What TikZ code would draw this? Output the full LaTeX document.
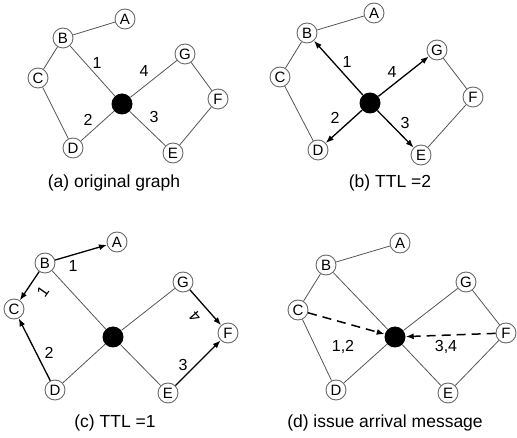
\documentclass[tikz,border=0pt]{standalone}
\usepackage{fontspec}
\setmainfont{Liberation Sans}
\usetikzlibrary{arrows.meta}
\definecolor{edgegray}{HTML}{555555}
\definecolor{ringgray}{HTML}{6A6A6A}
\tikzset{
  vtx/.style={circle,draw=ringgray,line width=0.9pt,fill=white,inner sep=0pt,minimum size=20pt,font=\fontsize{15}{15}\selectfont},
  hub/.style={circle,fill=black,inner sep=0pt,minimum size=21pt},
  edge/.style={draw=edgegray,line width=0.8pt},
  arr/.style={draw=black,line width=1.3pt,-{Latex[length=8pt,width=6pt]}},
  darr/.style={draw=black,line width=1.5pt,dash pattern=on 9pt off 6pt,-{Latex[length=8pt,width=6pt]}},
  lbl/.style={font=\fontsize{16}{16}\selectfont,inner sep=0pt},
  captxt/.style={font=\fontsize{17.5}{17.5}\selectfont,inner sep=0pt}
}
\begin{document}
\begin{tikzpicture}[x=1pt,y=-1pt]
\useasboundingbox (0,0) rectangle (517,438);
% ---------- (a)
\node[vtx] (aA) at (125,19) {A};
\node[vtx] (aB) at (63,38) {B};
\node[vtx] (aC) at (38,78) {C};
\node[vtx] (aD) at (73,148) {D};
\node[vtx] (aE) at (173,153) {E};
\node[vtx] (aF) at (218,99) {F};
\node[vtx] (aG) at (185,54) {G};
\node[hub] (aX) at (122,104) {};
\draw[edge] (aA)--(aB) (aB)--(aC) (aC)--(aD) (aB)--(aX) (aD)--(aX) (aX)--(aG) (aX)--(aE) (aG)--(aF) (aF)--(aE);
\node[lbl] (al1) at (97,63) {1};
\node[lbl] (al4) at (144,71) {4};
\node[lbl] (al2) at (88,120) {2};
\node[lbl] (al3) at (154,117) {3};
\node[captxt] (acap) at (114,183) {(a) original graph};
% ---------- (b)
\node[vtx] (bA) at (374,13) {A};
\node[vtx] (bB) at (307,33) {B};
\node[vtx] (bC) at (280,77) {C};
\node[vtx] (bD) at (318,150) {D};
\node[vtx] (bE) at (421,155) {E};
\node[vtx] (bF) at (473,97) {F};
\node[vtx] (bG) at (437,50) {G};
\node[hub] (bX) at (370,103) {};
\draw[edge] (bA)--(bB) (bB)--(bC) (bC)--(bD) (bG)--(bF) (bF)--(bE);
\draw[arr] (bX)--(bB);
\draw[arr] (bX)--(bD);
\draw[arr] (bX)--(bE);
\draw[arr] (bX)--(bG);
\node[lbl] (bl1) at (347,62) {1};
\node[lbl] (bl4) at (392,72) {4};
\node[lbl] (bl2) at (335,118) {2};
\node[lbl] (bl3) at (405,123) {3};
\node[captxt] (bcap) at (390,183) {(b) TTL =2};
% ---------- (c)
\node[vtx] (cA) at (117,242) {A};
\node[vtx] (cB) at (45,263) {B};
\node[vtx] (cC) at (14,309) {C};
\node[vtx] (cD) at (55,390) {D};
\node[vtx] (cE) at (168,393) {E};
\node[vtx] (cF) at (228,333) {F};
\node[vtx] (cG) at (183,282) {G};
\node[hub] (cX) at (113,337) {};
\draw[edge] (cB)--(cX) (cD)--(cX) (cX)--(cG) (cX)--(cE);
\draw[arr] (cB)--(cA);
\draw[arr] (cB)--(cC);
\draw[arr] (cD)--(cC);
\draw[arr] (cG)--(cF);
\draw[arr] (cE)--(cF);
\node[lbl] (cl1) at (73,266) {1};
\node[lbl,rotate=55] (cl1b) at (43,292) {1};
\node[lbl] (cl2) at (49,353) {2};
\node[lbl] (cl3) at (183,365) {3};
\node[lbl,rotate=131] (cl4) at (195,317) {4};
\node[captxt] (ccap) at (115,423) {(c) TTL =1};
% ---------- (d)
\node[vtx] (dA) at (400,243) {A};
\node[vtx] (dB) at (326,265) {B};
\node[vtx] (dC) at (298,310) {C};
\node[vtx] (dD) at (336,390) {D};
\node[vtx] (dE) at (448,393) {E};
\node[vtx] (dF) at (506,333) {F};
\node[vtx] (dG) at (466,282) {G};
\node[hub] (dX) at (395,337) {};
\draw[edge] (dA)--(dB) (dB)--(dC) (dC)--(dD) (dB)--(dX) (dD)--(dX) (dX)--(dG) (dX)--(dE) (dG)--(dF) (dF)--(dE);
\draw[darr] (dC)--(dX);
\draw[darr] (dF)--(dX);
\node[lbl] (dl12) at (343,347) {1,2};
\node[lbl] (dl34) at (446,347) {3,4};
\node[captxt] (dcap) at (385,423) {(d) issue arrival message};
\end{tikzpicture}
\end{document}
